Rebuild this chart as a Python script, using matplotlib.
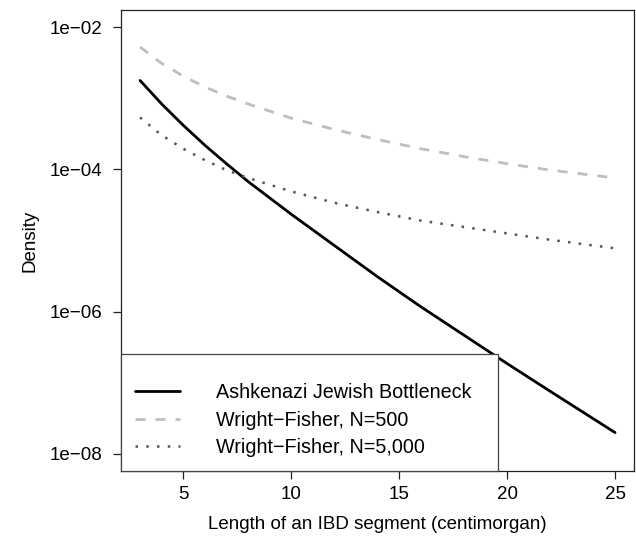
import matplotlib.pyplot as plt
import numpy as np

# segment length (cM) and log10 density for each model
length_cm = [3, 4, 5, 6, 7, 8, 10, 12, 14, 16, 18, 20, 22, 25]
log_aj_bottleneck = [-2.75, -3.08, -3.38, -3.66, -3.92, -4.17, -4.63, -5.07,
                     -5.51, -5.93, -6.33, -6.73, -7.12, -7.70]
log_wf_500 = [-2.28, -2.51, -2.69, -2.84, -2.97, -3.08, -3.28, -3.44,
              -3.58, -3.71, -3.82, -3.92, -4.01, -4.12]
log_wf_5000 = [-3.27, -3.52, -3.71, -3.87, -4.01, -4.12, -4.31, -4.47,
               -4.60, -4.72, -4.81, -4.90, -4.99, -5.11]

labels = ["Ashkenazi Jewish Bottleneck",
          "Wright\u2212Fisher, N=500",
          "Wright\u2212Fisher, N=5,000"]
y_ticks = [1e-2, 1e-4, 1e-6, 1e-8]
y_tick_labels = ["1e\u221202", "1e\u221204", "1e\u221206", "1e\u221208"]

plt.rcParams['font.family'] = ['Liberation Sans', 'DejaVu Sans']

fig = plt.figure(figsize=(6.36, 5.36), dpi=100)
ax = fig.add_axes([0.1903, 0.1213, 0.8066, 0.86])

x = np.array(length_cm)
ax.plot(x, 10 ** np.array(log_aj_bottleneck), color='black', lw=2.0,
        solid_capstyle='round', label=labels[0])
ax.plot(x, 10 ** np.array(log_wf_500), color='#bebebe', lw=2.0,
        linestyle=(0, (3.6, 3.6)), label=labels[1])
ax.plot(x, 10 ** np.array(log_wf_5000), color='#555555', lw=1.8,
        linestyle=(0, (1, 3.3)), label=labels[2])

ax.set_yscale('log')
# R-style 4% padding around the data range
ax.set_xlim(3 - 0.04 * 22, 25 + 0.04 * 22)
ax.set_ylim(10 ** (-8 - 0.04 * 6), 10 ** (-2 + 0.04 * 6))

ax.set_xticks([5, 10, 15, 20, 25])
ax.set_yticks(y_ticks)
ax.set_yticklabels(y_tick_labels)
ax.minorticks_off()
ax.tick_params(direction='out', length=5.5, width=0.9, labelsize=13.5,
               color='#222222')
ax.tick_params(axis='x', pad=5)
ax.tick_params(axis='y', pad=8)
for s in ax.spines.values():
    s.set_linewidth(0.9)
    s.set_color('#222222')

ax.set_xlabel("Length of an IBD segment (centimorgan)", fontsize=13.5)
ax.set_ylabel("Density", fontsize=13.5)
ax.xaxis.set_label_coords(0.5, -0.097)
ax.yaxis.set_label_coords(-0.16, 0.5)

# legend box spans the left ~73% of the panel, flush with the bottom-left corner
leg = ax.legend(loc='lower left', bbox_to_anchor=(0, 0, 0.735, 0.25),
                mode='expand', borderaxespad=0, title=" ", title_fontsize=5,
                fontsize=14.2, fancybox=False, framealpha=1, edgecolor='#444444',
                handlelength=2.3, handletextpad=1.8, borderpad=0.7,
                labelspacing=0.43)
leg.get_frame().set_linewidth(0.9)

fig.savefig("out.png", dpi=100)
